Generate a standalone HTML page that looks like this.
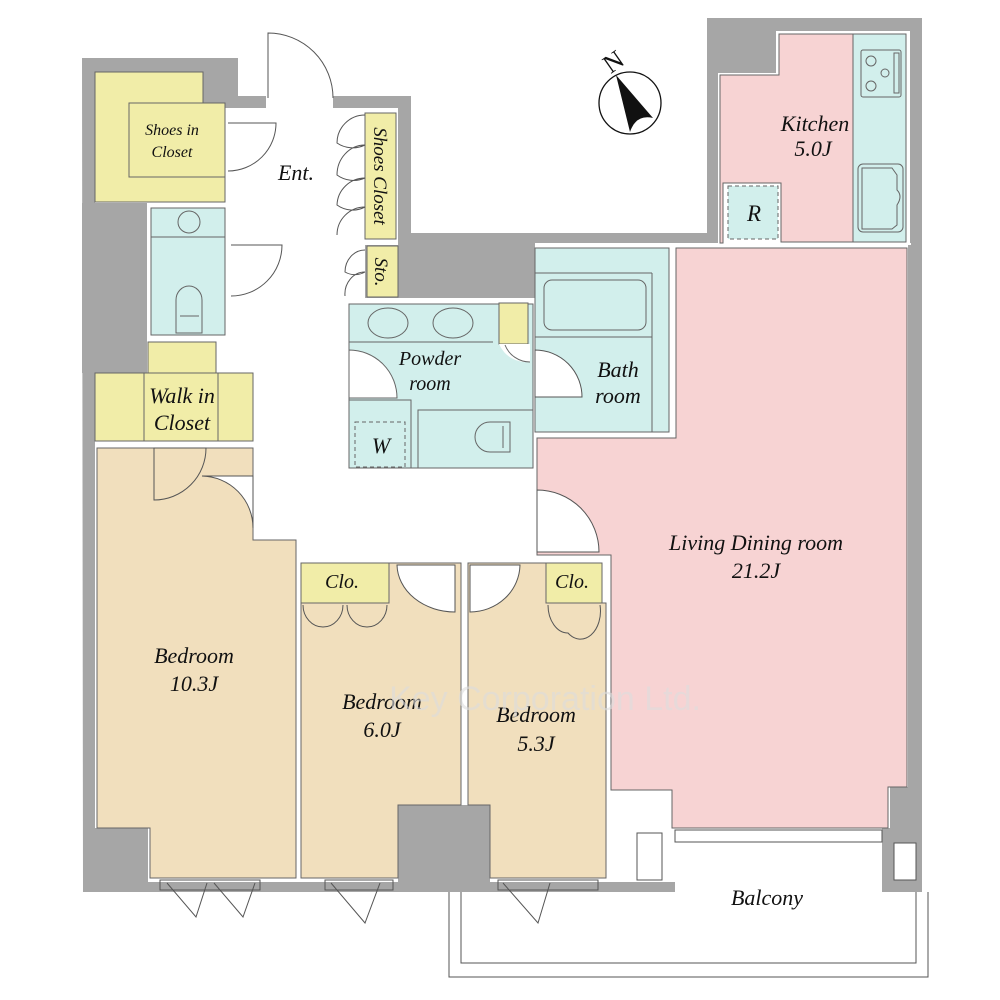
<!DOCTYPE html>
<html><head><meta charset="utf-8"><style>
html,body{margin:0;padding:0;background:#fff}
svg{display:block}
text{font-family:"Liberation Serif",serif;font-style:italic;fill:#111}
</style></head><body>
<svg width="1000" height="1000" viewBox="0 0 1000 1000" xmlns="http://www.w3.org/2000/svg">
<rect width="1000" height="1000" fill="#fff"/>
<polygon points="82,58 238,58 238,96 411,96 411,233 707,233 707,18 922,18 922,892 882,892 882,830 675,830 675,892 83,892" fill="#a6a6a6"/>
<g fill="#fff">
<rect x="95" y="72" width="140" height="131"/>
<rect x="225" y="108" width="173" height="137"/>
<rect x="147" y="203" width="108" height="245"/>
<rect x="95" y="340" width="160" height="108"/>
<rect x="225" y="245" width="140" height="60"/>
<rect x="253" y="298" width="290" height="266"/>
<rect x="95" y="444" width="515" height="438"/>
<rect x="605" y="785" width="72" height="97"/>
<rect x="533" y="243" width="378" height="590"/>
<rect x="718" y="73" width="192" height="175"/>
<rect x="776" y="31" width="134" height="50"/>
</g>
<g fill="#a6a6a6">
<rect x="398" y="233" width="137" height="65"/>
<rect x="398" y="805" width="92" height="87"/>
<rect x="83" y="828" width="65" height="64"/>
<rect x="82" y="203" width="65" height="170"/>
<rect x="882" y="828" width="40" height="64"/>
<rect x="908" y="245" width="14" height="600"/>
<rect x="890" y="787" width="32" height="45"/>
<rect x="203" y="58" width="35" height="50"/>
</g>
<g fill="#f1eda8" stroke="#666" stroke-width="1">
<polygon points="95,72 203,72 203,108 225,108 225,202 95,202"/>
<rect x="129" y="103" width="96" height="74"/>
<rect x="365" y="113" width="31" height="126"/>
<rect x="367" y="246" width="31" height="51"/>
<rect x="148" y="342" width="68" height="31"/>
<rect x="95" y="373" width="158" height="68"/>
<line x1="144" y1="373" x2="144" y2="441"/><line x1="218" y1="373" x2="218" y2="441"/>
<rect x="499" y="303" width="29" height="41"/>
<rect x="723" y="78" width="53" height="99"/>
<rect x="301" y="563" width="88" height="40"/>
<rect x="546" y="563" width="56" height="40"/>
</g>
<g fill="#f1dfbd" stroke="#666" stroke-width="1">
<polygon points="97,448 253,448 253,540 296,540 296,878 150,878 150,828 97,828"/>
<polygon points="301,603 389,603 389,563 461,563 461,805 398,805 398,878 301,878"/>
<polygon points="468,563 546,563 546,603 606,603 606,878 490,878 490,805 468,805"/>
</g>
<g fill="#f7d3d3" stroke="#666" stroke-width="1">
<polygon points="676,248 907,248 907,787 888,787 888,828 672,828 672,790 611,790 611,555 537,555 537,438 676,438"/>
<polygon points="779,34 853,34 853,242 781,242 781,183 723,183 723,243 720,243 720,75 779,75"/>
</g>
<g fill="#d2efec" stroke="#666" stroke-width="1">
<rect x="151" y="208" width="74" height="127"/>
<line x1="151" y1="237" x2="225" y2="237"/>
<rect x="349" y="304" width="184" height="164"/>
<line x1="349" y1="342" x2="493" y2="342"/>
<rect x="535" y="248" width="134" height="184"/>
<line x1="652" y1="273" x2="652" y2="432"/><line x1="535" y1="273" x2="652" y2="273"/><line x1="535" y1="337" x2="652" y2="337"/>
<rect x="544" y="280" width="102" height="50" rx="8"/>
<rect x="853" y="34" width="53" height="208"/>
<rect x="861" y="50" width="40" height="47" rx="2"/>
<rect x="858" y="164" width="45" height="68" rx="5"/>
<rect x="728" y="186" width="50" height="53" stroke-dasharray="4,3"/>
</g>
<g fill="#fff" stroke="#666" stroke-width="1">
<rect x="499" y="303" width="29" height="41" fill="#f1eda8"/>
<path d="M349,350 A48,48 0 0 1 397,398 L349,398 Z"/>
<path d="M499,344 L530,344 L530,362 A30,30 0 0 1 499,344 Z" fill="#fff" stroke="none"/>
<path d="M505,345 A27,27 0 0 0 530,362"/>
</g>
<g fill="#d2efec" stroke="#666" stroke-width="1">
<rect x="349" y="400" width="62" height="68"/>
<rect x="355" y="422" width="50" height="45" stroke-dasharray="4,3"/>
<rect x="418" y="410" width="115" height="58"/>
<path d="M510,422 L490,422 A15,15 0 0 0 490,452 L510,452 Z" fill="#d2efec"/>
<line x1="503" y1="426" x2="503" y2="448"/>
<ellipse cx="388" cy="323" rx="20" ry="15" fill="none"/>
<ellipse cx="453" cy="323" rx="20" ry="15" fill="none"/>
<circle cx="189" cy="222" r="11" fill="none"/>
<path d="M176,333 L176,300 A13,14 0 0 1 202,300 L202,333 Z" fill="none"/>
<line x1="180" y1="316" x2="199" y2="316"/>
<circle cx="871" cy="61" r="5" fill="none"/><circle cx="885" cy="73" r="4" fill="none"/><circle cx="871" cy="86" r="5" fill="none"/>
<rect x="894" y="53" width="5" height="40" fill="none"/>
<path d="M862,168 L892,168 L897,175 L897,190 Q903,196 897,205 L897,225 L892,229 L862,229 Z" fill="none"/>
</g>
<g fill="#fff" stroke="#555" stroke-width="1">
<rect x="266" y="96" width="67" height="13" stroke="none"/>
<path d="M268,98 L268,33 A65,65 0 0 1 333,98" fill="none"/>
<path d="M228,123 L276,123 A48,48 0 0 1 228,171" fill="none"/>
<path d="M231,245 L282,245 A51,51 0 0 1 231,296" fill="none"/>
<path d="M365,115 A28,28 0 0 0 337,143 A28,28 0 0 0 365,145 M365,145 A28,30 0 0 0 337,175 A28,28 0 0 0 365,178 M365,178 A28,28 0 0 0 337,205 A28,30 0 0 0 365,207 M365,207 A28,28 0 0 0 337,235" fill="none"/>
<path d="M365,250 A20,22 0 0 0 345,272 A20,20 0 0 0 365,272 M365,272 A20,22 0 0 0 345,296" fill="none"/>
<path d="M535,350 A47,47 0 0 1 582,397 L535,397 Z"/>
<path d="M537,490 A62,62 0 0 1 599,552 L537,552 Z"/>
<path d="M206,448 A52,52 0 0 1 154,500 L154,448 Z" fill="none"/>
<path d="M202,476 A52,52 0 0 1 253,528 L253,476 Z" fill="#fff"/>
<path d="M397,565 A58,48 0 0 0 455,612 L455,565 Z"/>
<path d="M520,565 A50,48 0 0 1 470,612 L470,565 Z"/>
<path d="M303,605 A20,22 0 0 0 323,627 A20,22 0 0 0 343,605 M347,605 A20,22 0 0 0 367,627 A20,22 0 0 0 387,605" fill="none"/>
<path d="M548,605 A20,28 0 0 0 568,633 A20,28 0 0 0 600,605" fill="none"/>
<path d="M167,883 L196,917 L207,883 M214,883 L243,917 L255,883" fill="none"/>
<path d="M331,883 L365,923 L380,883" fill="none"/>
<path d="M503,883 L538,923 L550,883" fill="none"/>
<rect x="160" y="880" width="100" height="10" fill="none"/>
<rect x="325" y="880" width="68" height="10" fill="none"/>
<rect x="498" y="880" width="100" height="10" fill="none"/>
<rect x="675" y="830" width="207" height="12" fill="#fff"/>
<rect x="894" y="843" width="22" height="37"/>
<rect x="637" y="833" width="25" height="47" fill="none"/>
</g>
<g fill="none" stroke="#555" stroke-width="1">
<polyline points="449,892 449,977 928,977 928,892"/>
<polyline points="461,892 461,963 916,963 916,892"/>
</g>
<circle cx="630" cy="103" r="31" fill="#fff" stroke="#111" stroke-width="1.3"/>
<path d="M616,75 L653,118 Q636,114 630,132 Z" fill="#111"/>
<text x="603" y="74" font-size="26" style="font-style:normal" transform="rotate(-35 607 62)">N</text>
<g font-size="16" text-anchor="middle">
<text x="172" y="135">Shoes in</text><text x="172" y="157">Closet</text>
</g>
<g font-size="22" text-anchor="middle">
<text x="296" y="180">Ent.</text>
<text transform="translate(374,176) rotate(90)" font-size="19">Shoes Closet</text>
<text transform="translate(375,272) rotate(90)" font-size="19">Sto.</text>
<text x="182" y="403">Walk in</text><text x="182" y="430">Closet</text>
<text x="430" y="365" font-size="20">Powder</text><text x="430" y="390" font-size="20">room</text>
<text x="381" y="453">W</text>
<text x="618" y="377">Bath</text><text x="618" y="403">room</text>
<text x="815" y="131">Kitchen</text><text x="813" y="156">5.0J</text>
<text x="754" y="221" font-size="23">R</text>
<text x="756" y="550">Living Dining room</text><text x="756" y="578">21.2J</text>
<text x="194" y="663">Bedroom</text><text x="194" y="691">10.3J</text>
<text x="382" y="709">Bedroom</text><text x="382" y="737">6.0J</text>
<text x="536" y="722">Bedroom</text><text x="536" y="751">5.3J</text>
<text x="342" y="588" font-size="20">Clo.</text>
<text x="572" y="588" font-size="20">Clo.</text>
<text x="767" y="905">Balcony</text>
</g>
<text x="545" y="710" font-size="34" text-anchor="middle" style="font-style:normal;fill:#ddd;opacity:0.6;font-family:'Liberation Sans',sans-serif">Key Corporation Ltd.</text>
</svg>
</body></html>
